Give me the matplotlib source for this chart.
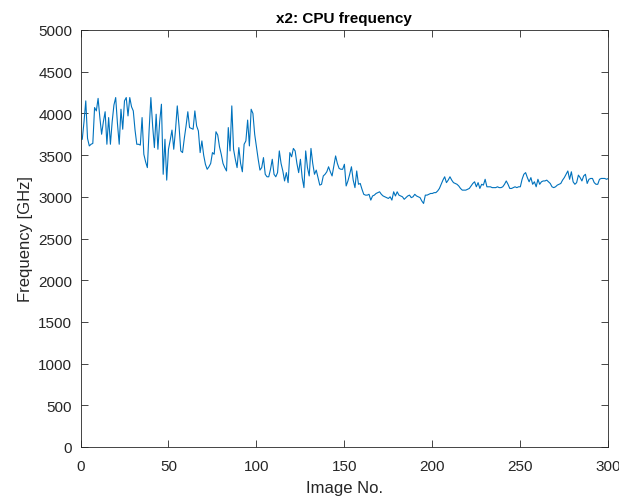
import numpy as np
import matplotlib
matplotlib.use("Agg")
import matplotlib.pyplot as plt

# CPU frequency per image (x2)
freq = [
    3690, 3900, 4150, 3700, 3610, 3630, 3640, 4070, 4030, 4180,
    3950, 3750, 3900, 4020, 3630, 3950, 3630, 3900, 4100, 4190,
    3880, 3630, 4050, 3810, 4150, 4190, 3970, 4190, 4080, 4030,
    3800, 3630, 3630, 3620, 3950, 3510, 3420, 3350, 3800, 4190,
    3850, 3590, 3990, 3570, 3900, 4110, 3270, 3690, 3200, 3570,
    3680, 3800, 3570, 3800, 4090, 3850, 3550, 3530, 3700, 3850,
    4020, 3830, 3820, 3810, 4030, 3850, 3790, 3530, 3670, 3500,
    3390, 3330, 3360, 3400, 3530, 3510, 3780, 3740, 3600, 3510,
    3400, 3350, 3310, 3830, 3550, 4090, 3570, 3450, 3350, 3590,
    3400, 3300, 3630, 3670, 3920, 3610, 4050, 4000, 3750, 3600,
    3450, 3320, 3350, 3470, 3270, 3240, 3240, 3330, 3450, 3270,
    3240, 3290, 3550, 3400, 3310, 3190, 3290, 3170, 3530, 3480,
    3580, 3550, 3400, 3290, 3450, 3230, 3110, 3550, 3350, 3250,
    3580, 3400, 3270, 3320, 3230, 3140, 3150, 3250, 3270, 3300,
    3360, 3300, 3250, 3370, 3490, 3400, 3340, 3330, 3330, 3390,
    3130, 3190, 3270, 3360, 3200, 3110, 3310, 3150, 3160, 3090,
    3030, 3020, 3020, 3030, 2960, 3010, 3020, 3040, 3050, 3060,
    3030, 3010, 3000, 2990, 2980, 3000, 2960, 3060, 3010, 3060,
    3020, 3010, 3000, 2970, 2990, 3010, 3020, 2990, 3000, 3030,
    3010, 3000, 2990, 2950, 2920, 3020, 3020, 3030, 3040, 3040,
    3050, 3050, 3070, 3100, 3150, 3200, 3240, 3170, 3200, 3240,
    3200, 3170, 3160, 3150, 3130, 3100, 3080, 3080, 3080, 3090,
    3100, 3130, 3160, 3180, 3120, 3170, 3100, 3150, 3140, 3210,
    3120, 3120, 3120, 3110, 3110, 3110, 3120, 3110, 3110, 3120,
    3150, 3190, 3150, 3100, 3100, 3110, 3120, 3110, 3120, 3120,
    3210, 3270, 3290, 3230, 3180, 3230, 3150, 3180, 3120, 3210,
    3150, 3180, 3190, 3190, 3200, 3180, 3160, 3120, 3110, 3120,
    3140, 3150, 3160, 3200, 3230, 3270, 3310, 3210, 3300, 3180,
    3150, 3170, 3260, 3230, 3190, 3250, 3270, 3160, 3210, 3220,
    3220, 3170, 3150, 3150, 3210, 3220, 3220, 3220, 3210, 3220,
]
image_no = np.arange(1, len(freq) + 1)

xticks = [0, 50, 100, 150, 200, 250, 300]
yticks = list(range(0, 5001, 500))

plt.rcParams['font.family'] = ['Liberation Sans', 'DejaVu Sans']
txt = '#262626'

fig = plt.figure(figsize=(6.19, 5.02), dpi=100)
ax = fig.add_axes([80.5 / 619, (502 - 448) / 502, (608.3 - 80.5) / 619, (448 - 31) / 502])

ax.plot(image_no, freq, color='#0072BD', linewidth=0.8)

ax.set_xlim(0, 300)
ax.set_ylim(0, 5000)
ax.set_xticks(xticks)
ax.set_yticks(yticks)
ax.tick_params(direction='in', top=True, right=True, length=5, width=0.6,
               labelsize=11, colors=txt)
ax.tick_params(axis='x', pad=9)
ax.tick_params(axis='y', pad=6)
for s in ax.spines.values():
    s.set_color(txt)
    s.set_linewidth(0.6)

ax.set_xlabel('Image No.', fontsize=12, color=txt, labelpad=5)
ax.set_ylabel('Frequency [GHz]', fontsize=12, color=txt, labelpad=4)
ax.set_title('x2: CPU frequency', fontsize=11, fontweight='bold', color='black', pad=6)

fig.savefig('out.png', dpi=100)
